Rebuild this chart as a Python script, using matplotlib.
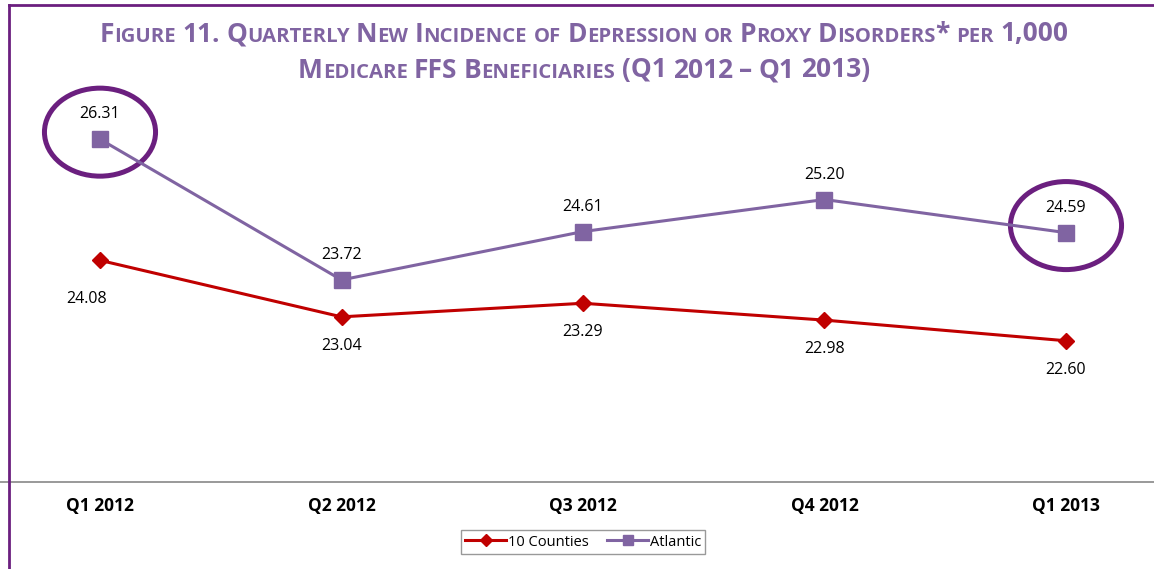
import itertools
import matplotlib
matplotlib.use('Agg')
import matplotlib.pyplot as plt
from matplotlib.patches import Ellipse
from matplotlib.lines import Line2D
from matplotlib.offsetbox import TextArea, HPacker, AnnotationBbox

# data
quarters = ['Q1 2012', 'Q2 2012', 'Q3 2012', 'Q4 2012', 'Q1 2013']
counties = [24.08, 23.04, 23.29, 22.98, 22.60]
atlantic = [26.31, 23.72, 24.61, 25.20, 24.59]
series_names = ['10 Counties', 'Atlantic']
title_lines = ['Figure 11. Quarterly New Incidence of Depression or Proxy Disorders* per 1,000',
               'Medicare FFS Beneficiaries (Q1 2012 \u2013 Q1 2013)']
circled = [0, 4]

plt.rcParams['font.family'] = ['Open Sans', 'DejaVu Sans']

purple = '#8064A2'
red = '#C00000'
dark = '#6B1F7F'
W, H = 1154, 569


def small_caps(line, big=19, small=14.6, color=purple):
    # fake small caps: lowercase letters drawn as smaller capitals
    words = []
    for word in line.split(' '):
        parts = []
        for is_small, chars in itertools.groupby(word, key=str.islower):
            parts.append(TextArea(''.join(chars).upper(),
                                  textprops=dict(size=small if is_small else big,
                                                 weight='bold', color=color)))
        words.append(HPacker(children=parts, align='baseline', pad=0, sep=0))
    return HPacker(children=words, align='baseline', pad=0, sep=4.6)


fig = plt.figure(figsize=(W / 100, H / 100), dpi=100)
ax = fig.add_axes([0, 1 - 482 / H, 1, (482 - 47.4) / H])

x = list(range(len(quarters)))
ax.plot(x, counties, color=red, lw=2.2, marker='D', ms=8.2, label=series_names[0])
ax.plot(x, atlantic, color=purple, lw=2.2, marker='s', ms=11, label=series_names[1])

ax.set_xlim(-100 / 241.5, 4 + 88 / 241.5)
ax.set_ylim(20, 28)

for i, v in enumerate(atlantic):
    ax.annotate(f'{v:.2f}', (i, v), xytext=(0, 18), textcoords='offset points',
                ha='center', va='center', fontsize=11.5)
for i, v in enumerate(counties):
    off = (-10, -28) if i == 0 else (0, -21)
    ax.annotate(f'{v:.2f}', (i, v), xytext=off, textcoords='offset points',
                ha='center', va='center', fontsize=11.5)

for i in circled:
    ax.add_patch(Ellipse((i, atlantic[i] + 0.13), 0.46, 1.62,
                         fill=False, ec=dark, lw=3.6, clip_on=False))

ax.set_xticks(x, quarters, fontweight='bold', fontsize=12.5)
ax.set_yticks([])
ax.tick_params(axis='x', length=0, pad=11)
for s in ['top', 'left', 'right']:
    ax.spines[s].set_visible(False)
ax.spines['bottom'].set_color('#888888')
ax.spines['bottom'].set_linewidth(1.2)

fig.legend(loc='center', bbox_to_anchor=(583 / W, 1 - 542 / H), ncol=2,
           fontsize=10.5, fancybox=False, edgecolor='#999999', framealpha=1,
           handlelength=2.8, handletextpad=0.1, columnspacing=1.3,
           borderpad=0.3, markerscale=0.7)

# purple page frame
fig.add_artist(Line2D([9 / W, 9 / W], [0, 1 - 5 / H], transform=fig.transFigure,
                      color=dark, lw=2))
fig.add_artist(Line2D([9 / W, 1], [1 - 5 / H, 1 - 5 / H], transform=fig.transFigure,
                      color=dark, lw=2))

for k, line in enumerate(title_lines):
    fig.add_artist(AnnotationBbox(small_caps(line), (584 / W, 1 - (34 + 36 * k) / H),
                                  xycoords='figure fraction', frameon=False,
                                  box_alignment=(0.5, 0.5)))

fig.savefig('out.png', dpi=100)
